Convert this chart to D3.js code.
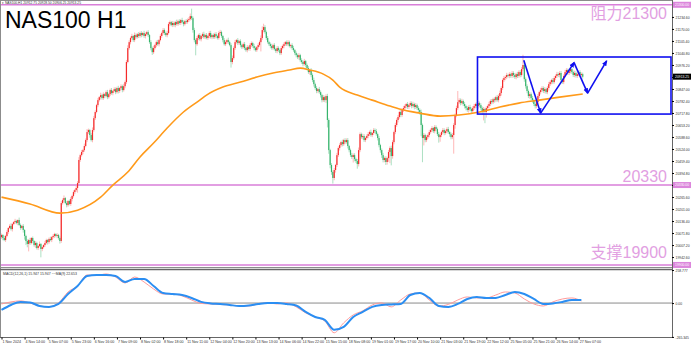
<!DOCTYPE html>
<html>
<head>
<meta charset="utf-8">
<script src="https://cdn.jsdelivr.net/npm/d3@7"></script>
<style>
html, body { margin: 0; padding: 0; background: #fff; }
svg { display: block; font-family: "Liberation Sans", Arial, sans-serif; }
</style>
</head>
<body>
<div id="chart"></div>
<script>
// NAS100 H1 closes, one per bar
var closes = [
  20061,20045,20034,20056,20077,20099,20110,20093,20120,20131,20137,20126,20142,20115,20099,20110,20088,20056,20029,20013,
  20034,20018,20045,20029,20007,20018,19991,20002,20013,19986,19996,20007,20018,20034,20023,20040,20034,20050,20056,20066,
  20056,20061,20045,20029,20233,20249,20260,20233,20222,20244,20228,20255,20271,20292,20303,20314,20341,20465,20491,20508,
  20518,20540,20572,20615,20626,20599,20572,20626,20690,20723,20760,20787,20803,20814,20798,20819,20809,20830,20803,20819,
  20841,20825,20836,20846,20830,20852,20836,20852,20862,20841,20862,20884,20992,21067,21099,21121,21132,21110,21137,21126,
  21142,21132,21148,21137,21148,21132,21142,21153,21137,21099,21067,21045,21067,21083,21099,21088,21110,21132,21148,21164,
  21148,21137,21148,21196,21207,21191,21202,21191,21207,21196,21212,21202,21218,21207,21196,21212,21207,21218,21223,21239,
  21228,21164,21110,21088,21121,21137,21115,21132,21142,21126,21137,21121,21132,21148,21126,21137,21126,21142,21132,21121,
  21148,21153,21132,21110,21088,21099,21110,21099,21083,20992,21013,21067,21099,21110,21094,21104,21083,21072,21088,21067,
  21056,21072,21062,21083,21094,21078,21067,21056,21072,21083,21099,21121,21164,21180,21153,21121,21099,21088,21078,21067,
  21083,21062,21051,21067,21056,21040,21067,21078,21088,21099,21088,21099,21078,21083,21067,21056,21040,21029,21018,21029,
  21002,20992,20981,20997,20976,20959,20938,20949,20922,20895,20873,20852,20836,20846,20830,20814,20787,20803,20787,20809,
  20680,20518,20438,20400,20368,20411,20438,20491,20529,20545,20561,20550,20572,20561,20572,20540,20518,20491,20481,20491,
  20470,20459,20443,20518,20604,20588,20594,20572,20583,20594,20604,20615,20599,20610,20626,20620,20604,20583,20545,20518,
  20491,20465,20475,20454,20475,20508,20529,20486,20561,20615,20653,20680,20696,20723,20707,20734,20744,20755,20766,20750,
  20760,20771,20755,20766,20750,20760,20744,20734,20723,20653,20583,20599,20572,20588,20599,20615,20626,20637,20620,20642,
  20631,20604,20588,20599,20615,20626,20610,20620,20631,20615,20604,20588,20599,20653,20707,20744,20776,20787,20771,20782,
  20766,20755,20744,20734,20750,20739,20728,20744,20755,20766,20755,20771,20760,20744,20728,20739,20723,20744,20755,20766,
  20782,20776,20792,20787,20803,20787,20809,20825,20852,20895,20906,20911,20922,20917,20927,20917,20933,20922,20911,20927,
  20917,20938,20922,20954,20976,20900,20862,20836,20809,20819,20798,20787,20766,20755,20776,20809,20830,20841,20852,20836,
  20846,20830,20852,20873,20884,20895,20884,20906,20917,20927,20922,20933,20895,20884,20917,20938,20949,20933,20943,20954,
  20938,20922,20933,20917,20927,20938,20922,20927,20913
];
var firstOpen = 20050;

// wick length above / below the body, in points
var wickUp = [
  8,5,12,6,10,4,9,14,7,5,11,6,3,13,8,6,10,5,7,9,
  6,12,5,8,4,10,7,6,13,5,9,4,11,7,6,8,12,5,9,7,
  5,10,6,8,12,9,14,6,10,5,8,11,7,9,6,12,10,15,8,11,
  7,13,9,16,8,6,10,14,12,9,7,11,6,13,8,10,5,9,12,7,
  8,11,6,10,9,7,12,5,10,8,13,9,11,15,10,8,12,6,14,9,
  7,11,8,10,6,12,9,7,10,5,11,8,13,7,9,12,6,10,8,11,
  9,7,12,10,8,6,11,9,7,13,8,10,6,12,9,7,11,8,10,14,
  40,9,12,8,11,7,10,6,9,13,8,11,7,10,12,6,9,8,11,7,
  10,12,8,6,11,9,7,13,8,10,14,9,12,6,11,8,10,7,9,12,
  6,11,8,10,9,7,12,8,6,10,9,14,20,18,10,8,11,7,9,12,
  8,10,6,11,9,7,12,8,10,6,9,11,8,7,10,12,6,9,8,11,
  7,10,9,12,6,8,11,7,10,9,13,8,10,6,12,9,7,11,8,10,
  12,9,7,10,8,11,6,12,9,10,8,13,7,10,9,11,6,8,12,9,
  10,7,11,14,9,8,12,10,7,9,11,8,13,6,10,9,12,8,11,7,
  9,12,8,10,7,11,9,13,10,8,12,9,11,7,10,8,12,9,6,11,
  8,10,9,12,7,11,8,10,9,13,8,11,7,10,9,12,8,10,6,11,
  9,8,12,10,7,11,9,8,10,12,7,9,11,10,8,13,60,10,9,12,
  8,11,7,10,9,12,8,10,11,7,9,12,8,10,9,11,7,10,8,12,
  9,11,8,10,7,12,9,13,10,8,11,9,12,7,10,8,11,9,10,8,
  12,9,10,11,55,12,9,10,8,11,9,12,7,10,9,11,8,12,10,9,
  11,8,10,12,9,7,11,10,8,12,9,10,11,8,9,12,10,8,11,9,
  10,8,12,9,11,7,10,9,8
];
var wickDn = [
  9,12,6,10,7,11,5,8,13,6,9,7,12,5,10,8,14,20,22,18,
  40,10,7,12,9,15,8,11,6,45,12,8,10,7,13,9,6,11,8,10,
  7,12,9,14,10,8,11,6,12,9,7,10,13,8,11,9,25,6,10,8,
  12,9,7,11,10,14,8,12,9,10,7,11,8,13,9,10,12,7,11,8,
  10,9,12,7,11,8,13,10,9,12,8,11,10,7,9,12,8,10,11,9,
  8,11,9,12,7,10,13,8,11,9,12,15,10,8,11,9,12,7,10,8,
  11,9,12,8,10,7,11,9,12,8,10,9,11,7,12,8,10,9,11,8,
  10,14,12,60,9,11,8,12,10,9,11,7,10,12,8,11,9,10,12,8,
  9,11,10,12,8,10,9,11,7,30,12,9,10,8,11,9,12,10,8,11,
  9,12,8,10,11,9,12,8,10,11,9,50,10,12,9,11,8,10,12,9,
  11,8,10,12,9,11,10,8,12,9,10,11,8,12,10,9,11,12,10,13,
  11,10,12,9,13,11,10,14,12,11,13,10,12,11,9,13,12,10,11,15,
  40,20,18,15,30,12,14,11,10,13,9,12,10,11,9,13,12,10,11,30,
  12,10,25,13,11,9,12,10,11,9,12,10,9,11,10,12,9,13,12,14,
  15,13,12,16,14,20,60,50,14,12,11,10,13,9,12,10,11,9,12,10,
  11,9,12,10,13,11,10,12,14,60,130,40,12,11,10,12,9,11,10,12,
  11,10,30,25,11,10,12,9,11,10,14,12,11,100,20,12,11,10,12,9,
  11,13,12,10,14,11,12,13,10,12,11,14,12,13,20,50,60,30,14,12,
  11,12,10,13,11,9,12,10,14,11,10,12,11,9,12,10,11,13,10,12,
  11,10,12,9,11,14,13,12,11,15,12,14,11,13,12,10,11,12,10,11,
  12,10,11,13,10,12,11,9,12,10,11,13,12,10,11,9,12,10,11,12,
  10,11,12,9,11,10,12,11,10
];

// orange moving average, sampled at bars
var maBars = [0,21,43,56,73,82,93,102,112,122,134,146,151,163,176,188,200,212,220,227,
              237,244,249,262,273,286,293,308,323,337,352,367,381,396,411,428];
var maVals = [20265,20228,20179,20195,20265,20330,20400,20481,20556,20637,20723,20787,20814,20857,20884,20911,20933,20949,20959,20949,
              20927,20895,20857,20814,20787,20755,20739,20717,20701,20707,20723,20750,20771,20787,20803,20820];

// MACD window, sampled every 7 bars
var macdBars = [0,7,14,21,28,35,42,49,56,63,70,77,84,91,98,105,112,119,126,133,140,147,154,161,168,175,182,189,196,203,
                210,217,224,231,238,245,252,259,266,273,280,287,294,301,308,315,322,329,336,343,350,357,364,371,378,385,392,399,406,413,420,427];
var macdMain = [-7,9,17,1,-23,-30,1,87,134,220,216,228,204,157,204,165,110,71,71,56,24,-3,-7,-11,-15,-23,-23,-7,1,-7,
                1,-30,-77,-109,-140,-233,-155,-93,-61,-15,1,-30,24,71,79,24,-23,-11,24,48,40,40,63,87,79,32,-7,-23,9,32,40,16];
var macdSignal = [-54,-15,9,5,-23,-30,-7,71,134,212,220,220,212,165,189,189,134,79,71,63,40,9,-3,-7,-15,-23,-19,-7,1,1,
                  -7,-19,-69,-109,-132,-210,-187,-109,-69,-30,-15,-11,-7,63,79,40,-23,-30,-7,32,48,40,40,63,87,71,32,-7,-3,9,24,23];

var timeLabels = ["1 Nov 2024","4 Nov 14:00","5 Nov 07:00","5 Nov 23:00","6 Nov 16:00","7 Nov 09:00","8 Nov 02:00","8 Nov 18:00",
  "11 Nov 11:00","12 Nov 04:00","12 Nov 20:00","13 Nov 13:00","14 Nov 06:00","14 Nov 22:00","15 Nov 15:00","18 Nov 08:00",
  "19 Nov 01:00","19 Nov 17:00","20 Nov 10:00","21 Nov 03:00","21 Nov 19:00","22 Nov 12:00","25 Nov 05:00","25 Nov 21:00",
  "26 Nov 14:00","27 Nov 07:00"];
var barsPerLabel = 17;
var priceTicks = [21234.60,21170.00,21105.40,21040.80,20976.20,20911.60,20847.00,20782.40,20717.80,20653.20,20588.60,
  20524.00,20459.40,20394.80,20330.20,20265.60,20201.00,20136.40,20071.80,20007.20,19942.60];
var macdTicks = [258.777, 0, -265.345];

var levels = [21300, 20330, 19900];
var levelNames = ["阻力21300", "20330", "支撑19900"];
var boxBars = [350.5, 493], boxPrices = [21019, 20712];
var zigBars = [384.6, 397, 421.6, 431.6, 445.6];
var zigPrices = [21002, 20717, 20989, 20825, 20998];
var lastPrice = 20913.25;

var width = 692, height = 347,
    plotR = 672,
    mainTop = 1, mainBot = 267,
    macdTop = 270, macdBot = 337,
    tinyFont = "'Liberation Sans', Arial, sans-serif";

var x  = d3.scaleLinear().domain([0, 493]).range([1.5, 671]);
var y  = d3.scaleLinear().domain([19889, 21315]).range([mainBot, 2]);
var ym = d3.scaleLinear().domain([-266, 259]).range([macdBot, macdTop]);

var svg = d3.select("#chart").append("svg")
    .attr("width", width)
    .attr("height", height);

svg.append("rect").attr("width", width).attr("height", height).attr("fill", "#fff");

var defs = svg.append("defs");
defs.append("clipPath").attr("id", "clipMain").append("rect")
    .attr("x", 0).attr("y", mainTop).attr("width", plotR).attr("height", mainBot - mainTop);
defs.append("clipPath").attr("id", "clipMacd").append("rect")
    .attr("x", 0).attr("y", macdTop).attr("width", plotR).attr("height", macdBot - macdTop);
defs.append("marker")
    .attr("id", "arrow")
    .attr("viewBox", "0 0 10 10")
    .attr("refX", 8).attr("refY", 5)
    .attr("markerUnits", "userSpaceOnUse")
    .attr("markerWidth", 6).attr("markerHeight", 6)
    .attr("orient", "auto")
  .append("path")
    .attr("d", "M0,1L10,5L0,9z")
    .attr("fill", "#1010f0");

// Price panel
//-----------------------------------------------------
var main = svg.append("g").attr("clip-path", "url(#clipMain)");

main.selectAll("line.level")
    .data(levels)
    .enter()
    .append("line")
    .attr("class", "level")
    .attr("x1", 0).attr("x2", plotR)
    .attr("y1", function(d) { return y(d); })
    .attr("y2", function(d) { return y(d); })
    .attr("stroke", "#d97ed9")
    .attr("stroke-width", 1.4);

var candles = closes.map(function(c, i) {
    var o = i ? closes[i - 1] : firstOpen;
    return {
        i: i, o: o, c: c,
        h: Math.max(o, c) + (wickUp[i] || 0),
        l: Math.min(o, c) - (wickDn[i] || 0)
    };
});

main.append("g").selectAll("line")
    .data(candles)
    .enter()
    .append("line")
    .attr("x1", function(d) { return x(d.i); })
    .attr("x2", function(d) { return x(d.i); })
    .attr("y1", function(d) { return y(d.h); })
    .attr("y2", function(d) { return y(d.l); })
    .attr("stroke", function(d) { return d.c >= d.o ? "#ffb0b0" : "#a3dcbb"; })
    .attr("stroke-width", 0.9);

main.append("g").selectAll("rect")
    .data(candles)
    .enter()
    .append("rect")
    .attr("x", function(d) { return x(d.i) - 0.6; })
    .attr("width", 1.2)
    .attr("y", function(d) { return y(Math.max(d.o, d.c)); })
    .attr("height", function(d) { return Math.max(0.8, y(Math.min(d.o, d.c)) - y(Math.max(d.o, d.c))); })
    .attr("fill", function(d) { return d.c >= d.o ? "#f42a2a" : "#36b46c"; });

main.append("path")
    .datum(d3.zip(maBars, maVals))
    .attr("fill", "none")
    .attr("stroke", "#ff9a1a")
    .attr("stroke-width", 1.6)
    .attr("d", d3.line()
        .x(function(d) { return x(d[0]); })
        .y(function(d) { return y(d[1]); })
        .curve(d3.curveMonotoneX));

main.append("rect")
    .attr("x", x(boxBars[0]))
    .attr("y", y(boxPrices[0]))
    .attr("width", x(boxBars[1]) - x(boxBars[0]))
    .attr("height", y(boxPrices[1]) - y(boxPrices[0]))
    .attr("fill", "none")
    .attr("stroke", "#1010f0")
    .attr("stroke-width", 1.6);

var zig = d3.zip(zigBars, zigPrices);
main.selectAll("line.zig")
    .data(d3.pairs(zig))
    .enter()
    .append("line")
    .attr("class", "zig")
    .attr("x1", function(d) { return x(d[0][0]); })
    .attr("y1", function(d) { return y(d[0][1]); })
    .attr("x2", function(d) { return x(d[1][0]); })
    .attr("y2", function(d) { return y(d[1][1]); })
    .attr("stroke", "#1010f0")
    .attr("stroke-width", 1.6)
    .attr("marker-end", "url(#arrow)");

// level captions
var captionDy = [14, -3, -6.5];
svg.selectAll("text.caption")
    .data(levels)
    .enter()
    .append("text")
    .attr("class", "caption")
    .attr("x", 667)
    .attr("y", function(d, i) { return y(d) + captionDy[i]; })
    .attr("text-anchor", "end")
    .attr("font-family", "'Liberation Sans', 'Noto Sans CJK SC', sans-serif")
    .attr("font-size", 16)
    .attr("fill", "#e29fe2")
    .text(function(d, i) { return levelNames[i]; });

svg.append("text")
    .attr("x", 5).attr("y", 28)
    .attr("font-size", 23)
    .attr("fill", "#000")
    .text("NAS100 H1");

svg.append("text")
    .attr("x", 2).attr("y", 4.3)
    .attr("font-size", 3.3)
    .attr("fill", "#333")
    .text("\u25BE NAS100,H1  20912.75 20928.50 20906.25 20913.25");

// MACD panel
//-----------------------------------------------------
var macd = svg.append("g").attr("clip-path", "url(#clipMacd)");

macd.append("line")
    .attr("x1", 0).attr("x2", plotR)
    .attr("y1", ym(0)).attr("y2", ym(0))
    .attr("stroke", "#8a8a8a").attr("stroke-width", 1);

var mline = d3.line()
    .x(function(d) { return x(d[0]); })
    .y(function(d) { return ym(d[1]); })
    .curve(d3.curveMonotoneX);

macd.append("path")
    .datum(d3.zip(macdBars, macdMain))
    .attr("fill", "none")
    .attr("stroke", "#ff9a9a")
    .attr("stroke-width", 1)
    .attr("d", mline);

macd.append("path")
    .datum(d3.zip(macdBars, macdSignal))
    .attr("fill", "none")
    .attr("stroke", "#2b8ef2")
    .attr("stroke-width", 2)
    .attr("d", mline);

svg.append("text")
    .attr("x", 3).attr("y", 275)
    .attr("font-size", 3.5)
    .attr("fill", "#333")
    .text("MACD(12,26,1) 15.947 15.947 ~~MA(9) 22.653");

// frames
//-----------------------------------------------------
var frame = svg.append("g").attr("stroke", "#8c8c8c").attr("stroke-width", 1);
frame.append("line").attr("x1", 0.5).attr("x2", 0.5).attr("y1", 0).attr("y2", macdBot + 1);
frame.append("line").attr("x1", 0).attr("x2", plotR).attr("y1", 0.5).attr("y2", 0.5);
frame.append("line").attr("x1", 0).attr("x2", plotR).attr("y1", mainBot + 0.5).attr("y2", mainBot + 0.5);
frame.append("line").attr("x1", 0).attr("x2", plotR).attr("y1", macdTop - 0.5).attr("y2", macdTop - 0.5).attr("stroke", "#666").attr("stroke-width", 1.5);
frame.append("line").attr("x1", plotR + 0.5).attr("x2", plotR + 0.5).attr("y1", 0).attr("y2", macdBot + 1).attr("stroke", "#666");

// axes
//-----------------------------------------------------
var fmt = d3.format(".2f");

svg.append("g")
    .attr("transform", "translate(" + plotR + ",0)")
    .call(d3.axisRight(y).tickValues(priceTicks).tickSize(2).tickSizeOuter(0).tickFormat(fmt))
    .attr("font-size", 3.4)
    .attr("font-family", tinyFont)
    .call(function(g) { g.select(".domain").remove(); })
    .call(function(g) { g.selectAll("text").attr("x", 3.5).attr("fill", "#333"); });

svg.append("g")
    .attr("transform", "translate(" + plotR + ",0)")
    .call(d3.axisRight(ym).tickValues(macdTicks).tickSize(2).tickSizeOuter(0)
        .tickFormat(function(d) { return d === 0 ? "0.00" : String(d); }))
    .attr("font-size", 3.4)
    .attr("font-family", tinyFont)
    .call(function(g) { g.select(".domain").remove(); })
    .call(function(g) { g.selectAll("text").attr("x", 3.5).attr("fill", "#333"); });

svg.append("g")
    .attr("transform", "translate(0," + (macdBot + 0.5) + ")")
    .call(d3.axisBottom(x)
        .tickValues(timeLabels.map(function(d, k) { return k * barsPerLabel; }))
        .tickFormat(function(d, k) { return timeLabels[k]; })
        .tickSize(2).tickSizeOuter(0))
    .attr("font-size", 3.6)
    .attr("font-family", tinyFont)
    .call(function(g) { g.select(".domain").attr("d", "M0,0H" + plotR).attr("stroke", "#666"); })
    .call(function(g) {
        g.selectAll("text").attr("text-anchor", "start").attr("x", 0.5).attr("y", 3).attr("fill", "#333");
    });

// price tags on the axis
var tags = levels.map(function(d) { return { v: d, bg: "#dc86dc" }; })
    .concat([{ v: lastPrice, bg: "#000" }]);

var tag = svg.selectAll("g.tag")
    .data(tags)
    .enter()
    .append("g")
    .attr("class", "tag")
    .attr("transform", function(d) { return "translate(" + (plotR + 1) + "," + y(d.v) + ")"; });

tag.append("rect")
    .attr("x", 0).attr("y", -3)
    .attr("width", 18).attr("height", 6)
    .attr("fill", function(d) { return d.bg; });

tag.append("text")
    .attr("x", 2).attr("y", 1.2)
    .attr("font-size", 3.4)
    .attr("font-family", tinyFont)
    .attr("fill", "#fff")
    .text(function(d) { return fmt(d.v); });
</script>
</body>
</html>
